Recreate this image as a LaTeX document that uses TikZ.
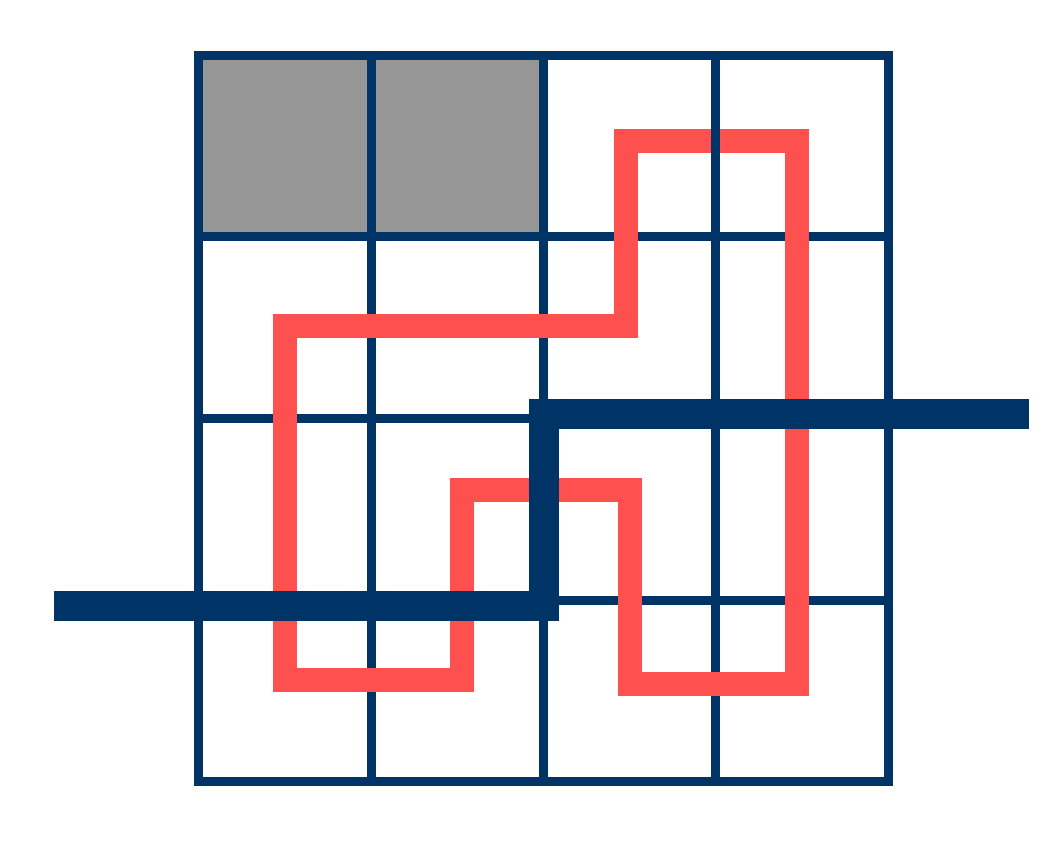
\documentclass[tikz,border=0pt]{standalone}
\usepackage{xcolor}
\usepackage{tikz}
\usetikzlibrary{calc}

\definecolor{gridblue}{HTML}{003366}
\definecolor{loopred}{HTML}{FF5050}
\definecolor{cellgray}{HTML}{969696}

\begin{document}
\begin{tikzpicture}[x=0.75pt, y=-0.75pt,
  cellgrid/.style={draw=gridblue, line width=6.75pt},
  redloop/.style={draw=loopred, line width=18pt, miter limit=10},
  cutline/.style={draw=gridblue, line width=22.5pt, line cap=butt, miter limit=10}]
  \useasboundingbox (0,0) rectangle (1060,843);
  % shaded cells
  \fill[cellgray] (198,55) rectangle (543,236);
  % grid
  \draw[cellgrid] (198,55) rectangle (888,781);
  \foreach \gx in {371,543,715}
    \draw[cellgrid] (\gx,55) -- (\gx,781);
  \foreach \gy in {236,418,600}
    \draw[cellgrid] (198,\gy) -- (888,\gy);
  % closed red loop
  \draw[redloop] (626,141) -- (797,141) -- (797,684) -- (630,684) -- (630,490)
    -- (462,490) -- (462,680) -- (285,680) -- (285,326) -- (626,326) -- cycle;
  \draw[cellgrid] (715,55) -- (715,236);
  % thick cut
  \coordinate (cutL) at (54,606);
  \coordinate (cutR) at (1029,414);
  \draw[cutline] (cutL) -- (544,606) -- (544,414) -- (cutR);
\end{tikzpicture}
\end{document}
